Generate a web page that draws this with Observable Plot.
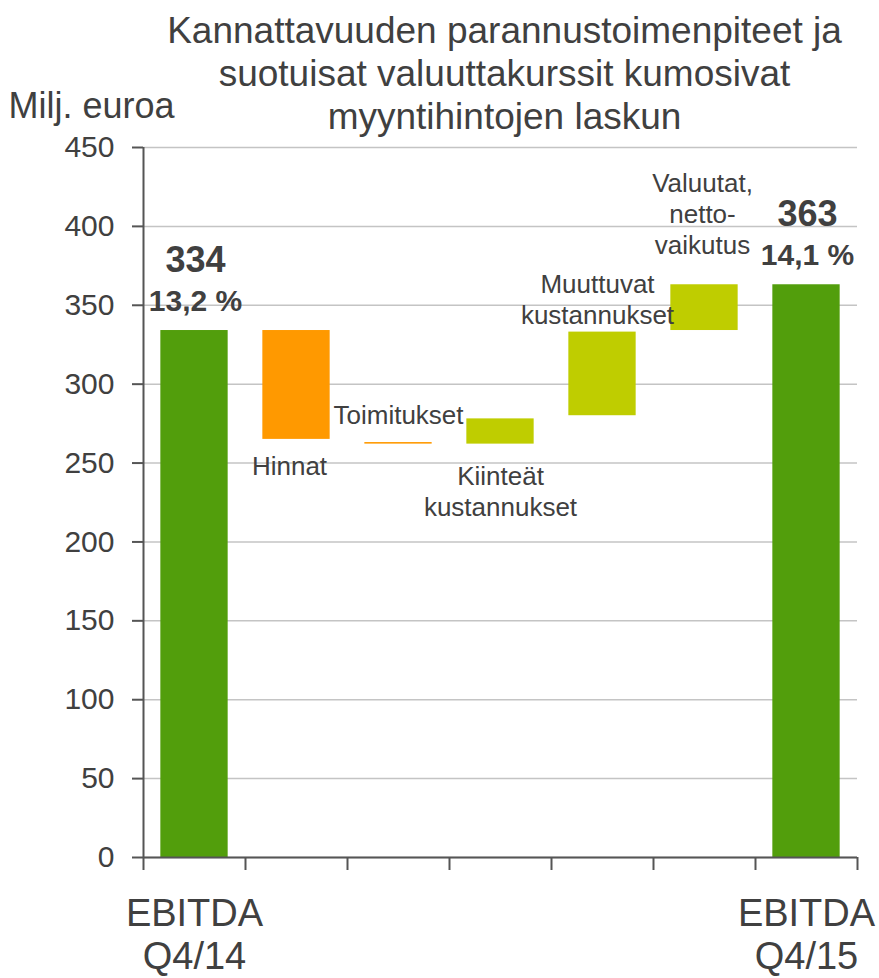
<!DOCTYPE html>
<html>
<head>
<meta charset="utf-8">
<script src="https://cdn.jsdelivr.net/npm/d3@7"></script>
<script src="https://cdn.jsdelivr.net/npm/@observablehq/plot@0.6"></script>
<style>
  body { margin: 0; background: #ffffff; }
  svg { display: block; }
</style>
</head>
<body>
<div id="chart"></div>
<script>
// ---- data ----
const categories = ["EBITDA Q4/14", "Hinnat", "Toimitukset", "Kiinteät kustannukset", "Muuttuvat kustannukset", "Valuutat, nettovaikutus", "EBITDA Q4/15"];
const stepLabels = ["EBITDA\nQ4/14", "Hinnat", "Toimitukset", "Kiinteät\nkustannukset", "Muuttuvat\nkustannukset", "Valuutat,\nnetto-\nvaikutus", "EBITDA\nQ4/15"];
const lows  = [0, 265, 262, 262, 280, 334, 0];
const highs = [334, 334, 263, 278, 333, 363, 363];
const kinds = ["total", "decrease", "decrease", "increase", "increase", "increase", "total"];
const totalValues  = ["334", "", "", "", "", "", "363"];
const totalMargins = ["13,2 %", "", "", "", "", "", "14,1 %"];
const yTicks = [0, 50, 100, 150, 200, 250, 300, 350, 400, 450];
const titleText = "Kannattavuuden parannustoimenpiteet ja\nsuotuisat valuuttakurssit kumosivat\nmyyntihintojen laskun";
const yUnit = "Milj. euroa";

// ---- table ----
const rows = categories.map((c, i) => ({
  i, name: c, label: stepLabels[i], low: lows[i], high: highs[i], kind: kinds[i],
  value: totalValues[i], margin: totalMargins[i]
}));
const totals = rows.filter(d => d.kind === "total");

// label placement for the step annotations (style config)
const stepLayout = {
  "Hinnat":                  {at: "low",  dx: -7, dy: 36},
  "Toimitukset":             {at: "high", dx: 0,  dy: -19},
  "Kiinteät kustannukset":   {at: "low",  dx: 0,  dy: 71.5},
  "Muuttuvat kustannukset":  {at: "high", dx: -5, dy: -8},
  "Valuutat, nettovaikutus": {at: "high", dx: -2, dy: -31}
};

const FONT = "'Liberation Sans', Arial, sans-serif";
const TEXT = "#404040";
const AXIS = "#555555";
const PAD = 0.17;

const stepMarks = rows.filter(d => stepLayout[d.name]).map(d => {
  const L = stepLayout[d.name];
  return Plot.text([d], {
    x: r => r.i + 0.5,
    y: r => L.at === "low" ? r.low : r.high,
    text: "label",
    dx: L.dx, dy: L.dy,
    lineAnchor: "bottom",
    textAnchor: "middle",
    fontSize: 26,
    lineHeight: 1.19,
    fill: TEXT
  });
});

const chart = Plot.plot({
  width: 879,
  height: 978,
  marginTop: 147,
  marginBottom: 121,
  marginLeft: 143,
  marginRight: 22,
  style: { fontFamily: FONT, background: "#ffffff", color: TEXT },
  x: { type: "linear", domain: [0, categories.length], axis: null },
  y: { domain: [0, 450], axis: null },
  color: { domain: ["total", "decrease", "increase"], range: ["#529E0C", "#FF9900", "#BFCD00"] },
  marks: [
    Plot.gridY(yTicks, { stroke: "#c4c4c4", strokeOpacity: 1, strokeWidth: 1.5 }),
    Plot.rectY(rows, {
      x1: d => d.i + PAD,
      x2: d => d.i + 1 - PAD,
      y1: "low",
      y2: "high",
      fill: "kind"
    }),
    Plot.ruleX([0], { stroke: AXIS, strokeWidth: 2 }),
    Plot.ruleY([0], { stroke: AXIS, strokeWidth: 2 }),
    Plot.axisY({
      ticks: yTicks,
      tickSize: 11,
      tickPadding: 18,
      fontSize: 30,
      stroke: AXIS,
      strokeWidth: 2,
      fill: TEXT,
      label: null
    }),
    Plot.axisX({
      ticks: d3.range(categories.length + 1),
      tickFormat: () => "",
      tickSize: 13,
      stroke: AXIS,
      strokeWidth: 2,
      label: null
    }),
    // category labels under the axis for the totals
    Plot.text(totals, {
      x: d => d.i + 0.5,
      frameAnchor: "bottom",
      text: "label",
      lineAnchor: "bottom",
      dy: 111,
      fontSize: 38,
      lineHeight: 1.13,
      fill: TEXT
    }),
    // total values
    Plot.text(totals, {
      x: d => d.i + 0.5, y: "high", text: "value",
      dy: -58.5, dx: 1, lineAnchor: "bottom", fontSize: 36, fontWeight: "bold", fill: TEXT
    }),
    Plot.text(totals, {
      x: d => d.i + 0.5, y: "high", text: "margin",
      dy: -19.5, dx: 1, lineAnchor: "bottom", fontSize: 30, fontWeight: "bold", fill: TEXT
    }),
    ...stepMarks,
    // title
    Plot.text([titleText], {
      frameAnchor: "top", text: d => d,
      dx: 4, dy: -19, lineAnchor: "bottom", fontSize: 37, lineHeight: 1.15, fill: TEXT
    }),
    // unit label
    Plot.text([yUnit], {
      frameAnchor: "top-left", text: d => d, textAnchor: "start",
      dx: -135, dy: -30, lineAnchor: "bottom", fontSize: 36, fill: TEXT
    })
  ]
});

document.getElementById("chart").appendChild(chart);
</script>
</body>
</html>
